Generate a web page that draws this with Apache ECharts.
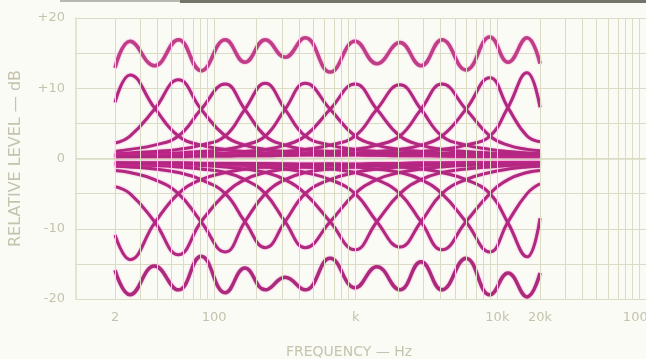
<!DOCTYPE html>
<html>
<head>
<meta charset="utf-8">
<title>Equalizer response</title>
<script src="https://cdn.jsdelivr.net/npm/echarts@6/dist/echarts.min.js"></script>
<style>
  html, body { margin: 0; padding: 0; background: #fbfbf6; }
  #chart { width: 646px; height: 359px; }
</style>
</head>
<body>
<div id="chart"></div>
<script>
var freqs = [20, 25.5, 38, 56, 81, 120, 165, 230, 317, 440, 660, 990, 1410, 2050, 2890, 4060, 6000, 8860, 11900, 16200, 20000];

// one band boosted, one row per band (dB)
var boostCurves = [
  [8.0, 11.9, 7.2, 3.2, 1.9, 1.3, 1.0, 0.8, 0.7, 0.6, 0.5, 0.5, 0.45, 0.4, 0.4, 0.35, 0.3, 0.3, 0.3, 0.3, 0.3],
  [2.2, 3.2, 7.0, 11.2, 7.0, 3.2, 1.9, 1.3, 1.0, 0.8, 0.7, 0.6, 0.5, 0.5, 0.45, 0.4, 0.4, 0.35, 0.3, 0.3, 0.3],
  [1.0, 1.3, 1.9, 3.2, 7.0, 10.6, 7.0, 3.2, 1.9, 1.3, 1.0, 0.8, 0.7, 0.6, 0.5, 0.5, 0.45, 0.4, 0.4, 0.35, 0.35],
  [0.65, 0.8, 1.0, 1.3, 1.9, 3.2, 7.0, 10.7, 7.0, 3.2, 1.9, 1.3, 1.0, 0.8, 0.7, 0.6, 0.5, 0.5, 0.45, 0.4, 0.4],
  [0.5, 0.6, 0.7, 0.8, 1.0, 1.3, 1.9, 3.2, 7.0, 10.7, 7.0, 3.2, 1.9, 1.3, 1.0, 0.8, 0.7, 0.6, 0.5, 0.5, 0.45],
  [0.45, 0.5, 0.5, 0.6, 0.7, 0.8, 1.0, 1.3, 1.9, 3.2, 7.0, 10.6, 7.0, 3.2, 1.9, 1.3, 1.0, 0.8, 0.7, 0.6, 0.55],
  [0.4, 0.4, 0.45, 0.5, 0.5, 0.6, 0.7, 0.8, 1.0, 1.3, 1.9, 3.2, 7.0, 10.5, 7.0, 3.2, 1.9, 1.3, 1.0, 0.8, 0.75],
  [0.35, 0.35, 0.4, 0.4, 0.45, 0.5, 0.5, 0.6, 0.7, 0.8, 1.0, 1.3, 1.9, 3.2, 7.0, 10.6, 7.0, 3.2, 1.9, 1.3, 1.1],
  [0.3, 0.3, 0.35, 0.35, 0.4, 0.4, 0.45, 0.5, 0.5, 0.6, 0.7, 0.8, 1.0, 1.3, 1.9, 3.2, 7.0, 11.5, 7.2, 3.2, 2.4],
  [0.3, 0.3, 0.3, 0.3, 0.35, 0.35, 0.4, 0.4, 0.45, 0.5, 0.5, 0.6, 0.7, 0.8, 1.0, 1.3, 1.9, 3.2, 7.3, 12.2, 7.3]
];

// one band cut, one row per band (dB)
var cutCurves = [
  [-10.9, -14.4, -9.2, -5.0, -3.0, -2.0, -1.5, -1.2, -1.0, -0.9, -0.8, -0.8, -0.7, -0.7, -0.6, -0.6, -0.6, -0.6, -0.6, -0.6, -0.6],
  [-4.0, -5.0, -9.0, -13.7, -9.0, -5.0, -3.0, -2.0, -1.5, -1.2, -1.0, -0.9, -0.8, -0.8, -0.7, -0.7, -0.6, -0.6, -0.6, -0.6, -0.6],
  [-1.7, -2.0, -3.0, -5.0, -9.0, -13.3, -9.0, -5.0, -3.0, -2.0, -1.5, -1.2, -1.0, -0.9, -0.8, -0.8, -0.7, -0.7, -0.6, -0.6, -0.6],
  [-1.1, -1.2, -1.5, -2.0, -3.0, -5.0, -9.0, -12.7, -9.0, -5.0, -3.0, -2.0, -1.5, -1.2, -1.0, -0.9, -0.8, -0.8, -0.7, -0.7, -0.6],
  [-0.9, -0.9, -1.0, -1.2, -1.5, -2.0, -3.0, -5.0, -9.0, -12.7, -9.0, -5.0, -3.0, -2.0, -1.5, -1.2, -1.0, -0.9, -0.8, -0.8, -0.7],
  [-0.8, -0.8, -0.8, -0.9, -1.0, -1.2, -1.5, -2.0, -3.0, -5.0, -9.0, -13.0, -9.0, -5.0, -3.0, -2.0, -1.5, -1.2, -1.0, -0.9, -0.85],
  [-0.7, -0.7, -0.8, -0.8, -0.8, -0.9, -1.0, -1.2, -1.5, -2.0, -3.0, -5.0, -9.0, -12.6, -9.0, -5.0, -3.0, -2.0, -1.5, -1.2, -1.1],
  [-0.7, -0.7, -0.7, -0.7, -0.8, -0.8, -0.8, -0.9, -1.0, -1.2, -1.5, -2.0, -3.0, -5.0, -9.0, -13.0, -9.0, -5.0, -3.0, -2.0, -1.7],
  [-0.6, -0.7, -0.7, -0.7, -0.7, -0.7, -0.8, -0.8, -0.8, -0.9, -1.0, -1.2, -1.5, -2.0, -3.0, -5.0, -9.0, -13.3, -9.0, -5.0, -3.6],
  [-0.6, -0.6, -0.6, -0.6, -0.7, -0.7, -0.7, -0.7, -0.8, -0.8, -0.8, -0.9, -1.0, -1.2, -1.5, -2.0, -3.0, -5.0, -9.2, -14.0, -8.5]
];

// all bands boosted / all bands cut (dB)
var allBoost = [12.9, 16.7, 13.2, 16.9, 12.5, 16.9, 13.7, 16.9, 14.4, 17.2, 12.3, 16.7, 13.5, 16.5, 13.2, 16.9, 12.6, 17.3, 13.7, 17.2, 13.5];
var allCut = [-15.9, -19.4, -15.3, -18.7, -13.9, -19.1, -15.6, -18.7, -16.9, -18.7, -14.2, -18.4, -15.4, -18.7, -14.7, -18.7, -14.2, -19.4, -16.3, -19.7, -16.3];

var yTicks = [-20, -10, 0, 10, 20];
var yTickLabels = ['-20', '-10', '0', '+10', '+20'];
var xTickFreqs = [20, 100, 1000, 10000, 20000, 100000];
var xTickLabels = ['2', '100', 'k', '10k', '20k', '100k'];
var gridFreqs = [20, 30, 40, 50, 60, 70, 80, 90, 100, 200, 300, 400, 500, 600, 700, 800, 900,
  1000, 2000, 3000, 4000, 5000, 6000, 7000, 8000, 9000, 10000, 20000, 30000, 40000, 50000,
  60000, 70000, 80000, 90000, 100000];
var xMinHz = 10.6;
var xMaxHz = 112000;

var gridColor = '#dcdcc6';
var textColor = '#c4c4ae';
var curveColor = '#b0287f';

function toPoints(values) {
  return values.map(function (v, i) { return [Math.log10(freqs[i]), v]; });
}

function curve(values, color, width) {
  return {
    type: 'line',
    data: toPoints(values),
    smooth: 0.45,
    showSymbol: false,
    silent: true,
    lineStyle: { color: color, width: width, shadowColor: 'rgba(230,40,165,0.55)', shadowBlur: 2 }
  };
}

var series = [];
// vertical log grid
series.push({
  type: 'line',
  data: [],
  silent: true,
  markLine: {
    silent: true,
    symbol: 'none',
    label: { show: false },
    lineStyle: { color: gridColor, width: 1, type: 'solid' },
    data: gridFreqs.map(function (f) { return { xAxis: Math.log10(f) }; })
  }
});
boostCurves.forEach(function (c) { series.push(curve(c, curveColor, 3)); });
cutCurves.forEach(function (c) { series.push(curve(c, curveColor, 3)); });
series.push(curve(allBoost, '#c03e88', 3.5));
series.push(curve(allCut, '#ac2a7c', 3.5));

var chart = echarts.init(document.getElementById('chart'));
chart.setOption({
  animation: false,
  backgroundColor: '#fbfbf6',
  textStyle: { fontFamily: 'DejaVu Sans' },
  graphic: [
    { type: 'rect', shape: { x: 60, y: 0, width: 120, height: 2 }, style: { fill: '#b8b8b0' } },
    { type: 'rect', shape: { x: 180, y: 0, width: 466, height: 3 }, style: { fill: '#74746a' } }
  ],
  grid: { left: 76, right: 0, top: 18, bottom: 60, outerBoundsMode: 'none' },
  xAxis: {
    type: 'value',
    min: Math.log10(xMinHz),
    max: Math.log10(xMaxHz),
    name: 'FREQUENCY — Hz',
    nameLocation: 'middle',
    nameGap: 46,
    nameTextStyle: { color: textColor, fontSize: 14, padding: [0, 24, 0, 0] },
    axisLine: { show: true, lineStyle: { color: gridColor, width: 1.5 } },
    axisTick: { show: false },
    splitLine: { show: false },
    axisLabel: {
      customValues: xTickFreqs.map(function (f) { return Math.log10(f); }),
      color: textColor,
      fontSize: 13,
      margin: 12,
      formatter: function (v) {
        for (var i = 0; i < xTickFreqs.length; i++) {
          if (Math.abs(Math.log10(xTickFreqs[i]) - v) < 1e-6) return xTickLabels[i];
        }
        return '';
      }
    }
  },
  yAxis: {
    type: 'value',
    min: -20,
    max: 20,
    interval: 5,
    name: 'RELATIVE LEVEL — dB',
    nameLocation: 'middle',
    nameRotate: 90,
    nameGap: 52,
    nameTextStyle: { color: textColor, fontSize: 16 },
    axisLine: { show: true, lineStyle: { color: gridColor, width: 1.5 } },
    axisTick: { show: false },
    splitLine: { show: true, lineStyle: { color: gridColor, width: 1 } },
    axisLabel: {
      customValues: yTicks,
      color: textColor,
      fontSize: 13,
      margin: 11,
      formatter: function (v) {
        var i = yTicks.indexOf(v);
        return i >= 0 ? yTickLabels[i] : '';
      }
    }
  },
  series: series
});
</script>
</body>
</html>
